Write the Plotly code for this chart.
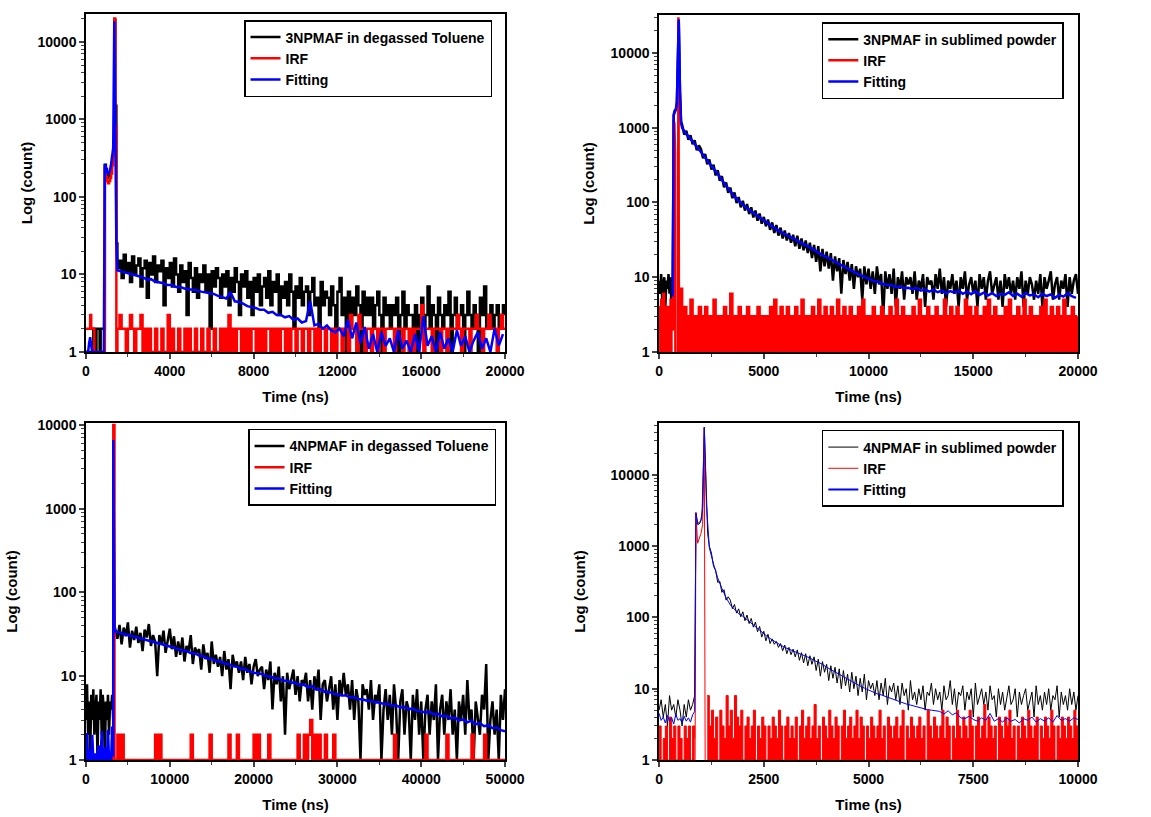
import plotly.graph_objects as go

# ---------------- data (counts) ----------------
# panel 1 : 3NPMAF in degassed Toluene
p1_head_t = [0, 50, 100, 150, 200, 250, 300, 350, 400, 450, 500, 550, 600, 650, 700,
             750, 800, 850, 900, 950, 1000, 1050, 1100, 1150, 1200, 1250, 1300, 1350, 1400, 1450]
p1_decay_head = [1, 1, 1, 1, 1, 1, 1, 2, 2, 1, 2, 2, 2, 1, 2, 2, 2, 2,
                 260, 230, 190, 175, 185, 200, 250, 330, 450, 19000, 1500, 25]
p1_irf_head = [2, 2, 2, 2, 3, 2, 2, 2, 1, 1, 1, 1, 1, 1, 1, 1, 1, 1,
               240, 180, 160, 150, 160, 175, 200, 260, 400, 20000, 800, 1]
p1_fit_head = [1, 1, 1, 1.3, 1.55, 1.2, 1, 1, 1, 1, 1, 1, 1, 1, 1, 1, 1, 1,
               265, 240, 205, 195, 205, 225, 265, 330, 430, 18500, 700, 25]
p1_decay_tail = [12, 15, 9, 18, 11, 14, 8, 17, 10, 13,
                 16, 7, 12, 15, 5, 14, 10, 17, 8, 13,
                 11, 15, 4, 12, 9, 14, 7, 16, 10, 6,
                 13, 8, 11, 3, 14, 9, 6, 12, 5, 10,
                 8, 13, 6, 10, 2, 11, 7, 12, 9, 5,
                 10, 7, 11, 4, 9, 6, 12, 8, 3, 10,
                 7, 11, 5, 8, 3, 9, 6, 10, 4, 7,
                 9, 5, 11, 4, 8, 6, 10, 3, 7, 5,
                 8, 4, 10, 6, 2, 7, 5, 9, 4, 6,
                 7, 3, 6, 9, 4, 5, 1, 8, 4, 6,
                 5, 3, 7, 4, 2, 6, 9, 3, 5, 1,
                 6, 2, 5, 3, 7, 4, 1, 6, 3, 5,
                 3, 5, 2, 4, 6, 3, 1, 5, 3, 4,
                 2, 4, 3, 5, 1, 3, 6, 2, 4, 3,
                 3, 2, 4, 1, 3, 5, 2, 3, 7, 2,
                 4, 3, 1, 5, 3, 2, 4, 3, 6, 1,
                 3, 5, 2, 3, 4, 1, 3, 6, 3, 2,
                 4, 3, 1, 5, 3, 7, 2, 3, 4, 2,
                 3, 4, 2, 3, 4, 3]
p1_irf_tail = [2, 3, 2, 2, 1, 2, 3, 2, 1, 2,
               2, 3, 1, 2, 1, 2, 1, 1, 2, 1,
               1, 2, 1, 1, 3, 1, 2, 1, 1, 2,
               1, 1, 2, 1, 2, 1, 1, 2, 1, 1,
               2, 1, 1, 2, 1, 1, 2, 1, 1, 2,
               1, 2, 1, 3, 1, 2, 1, 2, 2, 1,
               2, 1, 2, 1, 2, 2, 1, 2, 1, 2,
               1, 2, 2, 1, 2, 1, 2, 1, 2, 2,
               1, 2, 1, 2, 2, 1, 2, 2, 1, 2,
               2, 1, 2, 2, 1, 2, 1, 2, 2, 1,
               2, 2, 1, 2, 1, 2, 2, 1, 2, 2,
               1, 3, 2, 2, 1, 3, 2, 2, 1, 2,
               2, 1, 2, 2, 1, 2, 2, 1, 2, 2,
               2, 2, 1, 2, 2, 2, 1, 2, 2, 1,
               2, 1, 2, 2, 2, 4, 1, 2, 2, 2,
               1, 2, 2, 2, 1, 2, 2, 1, 2, 2,
               2, 2, 3, 2, 1, 2, 2, 2, 1, 2,
               2, 3, 2, 2, 1, 2, 2, 3, 2, 2,
               2, 1, 2, 3, 2, 2]
p1_fit_tail = [11.3, 10.9, 10.4, 10.2, 9.7, 9.4, 9.2, 8.6, 8.7, 8.1,
               7.9, 7.7, 7.3, 7.3, 6.9, 6.9, 6.6, 6.5, 6.3, 6.2,
               6.0, 5.9, 5.7, 5.6, 5.3, 5.1, 4.9, 5.9, 4.5, 4.4,
               4.2, 3.9, 3.8, 3.7, 3.5, 3.5, 3.2, 3.3, 3.0, 3.0,
               2.8, 2.9, 2.6, 2.7, 2.4, 2.5, 4.5, 2.2, 2.3, 2.0,
               2.2, 1.9, 1.8, 2.0, 1.6, 2.6, 1.5, 2.4, 1.3, 2.1,
               1.1, 1.7, 1.0, 1.8, 1.2, 1.5, 1.0, 1.9, 1.1, 1.4,
               1.0, 1.7, 1.0, 2.9, 1.2, 1.6, 1.0, 1.8, 1.1, 1.5,
               1.0, 1.9, 1.2, 1.6, 1.0, 1.4, 1.8, 1.1, 1.5, 1.0,
               2.0, 1.2, 1.7]

# panel 2 : 3NPMAF in sublimed powder
p2_head_t = [0, 50, 100, 150, 200, 250, 300, 350, 400, 450, 500, 550, 600, 650,
             700, 750, 800, 850, 900, 940, 1000, 1050]
p2_decay_head = [9, 6, 11, 5, 8, 10, 4, 9, 7, 11, 6, 10, 3, 7,
                 1450, 1650, 1700, 2100, 8500, 27000, 2900, 1200]
p2_decay_tail = [1100, 810, 910, 690, 790, 600, 680, 500, 580,
                 520, 390, 445, 325, 375, 275, 320, 230, 270, 195,
                 225, 160, 185, 135, 158, 114, 136, 98, 118, 86,
                 105, 78, 95, 70, 86, 63, 78, 57, 71, 52,
                 64, 48, 59, 43, 54, 39, 50, 36, 46, 33,
                 42, 31, 39, 29, 37, 26, 36, 24, 33, 23,
                 31, 21, 29, 18, 27, 16, 26, 12, 24, 14,
                 22, 13, 21, 9, 19, 12, 18, 6, 17, 11,
                 16, 9, 15, 7, 14, 10, 13, 5, 14, 8,
                 13, 7, 12, 6, 14, 8, 11, 3, 12, 7,
                 11, 6, 13, 4, 10, 7, 12, 5, 10, 8,
                 10, 6, 12, 5, 9, 7, 11, 4, 10, 8,
                 9, 5, 11, 7, 13, 6, 10, 4, 9, 7,
                 11, 6, 9, 4, 10, 7, 12, 5, 8, 10,
                 6, 9, 4, 11, 7, 10, 5, 9, 12, 6,
                 8, 10, 5, 9, 4, 11, 7, 10, 6, 9,
                 5, 10, 7, 12, 4, 9, 6, 10, 8, 5,
                 9, 6, 11, 4, 10, 7, 9, 12, 5, 8,
                 10, 5, 9, 7, 11, 4, 10, 6, 9, 11,
                 6]
p2_irf_pre = [4, 2, 5, 3, 6, 2, 4, 3, 1, 4, 3, 5, 2, 4]
p2_irf_peak_t = [665, 690, 730, 765, 780, 850, 905, 925, 950]
p2_irf_peak = [2, 1260, 1150, 450, 1, None, 1, 30000, 1]
p2_irf_tail = [7,
               2, 4, 1, 3, 5, 2, 3, 1, 4,
               3, 2, 4, 1, 3, 2, 5, 3, 1, 3,
               2, 4, 3, 1, 6, 3, 2, 3, 4, 2,
               3, 1, 4, 2, 3, 1, 3, 4, 2, 3,
               2, 3, 1, 4, 3, 5, 2, 3, 4, 1,
               3, 4, 2, 3, 1, 4, 3, 2, 5, 3,
               1, 3, 2, 4, 3, 2, 5, 3, 1, 4,
               3, 2, 4, 1, 3, 5, 2, 3, 4, 2,
               3, 4, 1, 3, 2, 4, 3, 5, 2, 3,
               1, 3, 4, 2, 3, 1, 4, 3, 2, 3,
               4, 2, 3, 5, 1, 3, 4, 2, 3, 1,
               3, 4, 2, 3, 5, 2, 3, 1, 4, 3,
               2, 3, 4, 1, 3, 2, 5, 3, 2, 4,
               3, 1, 4, 3, 2, 3, 5, 2, 4, 3,
               2, 4, 3, 1, 3, 4, 2, 5, 3, 2,
               4, 3, 1, 3, 2, 4, 3, 5, 2, 3,
               1, 4, 3, 2, 5, 3, 2, 4, 3, 1,
               3, 2, 4, 3, 5, 2, 3, 4, 1, 3,
               4, 2, 3, 5, 2, 3, 1, 4, 3, 2,
               3]
p2_fit_head_t = [650, 700, 750, 800, 850, 900, 940, 1000, 1050]
p2_fit_head = [5.5, 1500, 1700, 1750, 2200, 9000, 28000, 3000, 1150]
p2_fit_tail = [1000, 820, 710, 610, 515, 435, 365, 310, 262, 220,
               182, 152, 130, 112, 99, 88, 80, 72, 66, 60,
               55, 50, 46, 42, 39, 36, 34, 32, 29.5, 27.5,
               26, 24, 22, 20.5, 19, 18, 16.5, 15.5, 14.5, 13.5,
               12.5, 11.7, 11, 10.4, 9.8, 9.4, 8.8, 8.6, 8.1, 7.9,
               7.8, 7.4, 7.5, 7.1, 7.2, 6.9, 7.2, 6.6, 6.9, 6.4,
               6.8, 6.3, 6.6, 6.1, 6.5, 6.2, 6.6, 6.0, 6.4, 5.9,
               6.5, 5.8, 6.2, 5.7, 6.1, 5.6, 6.0, 5.8, 6.3, 5.6,
               6.0, 5.5, 6.1, 5.7, 5.9, 5.4, 6.0, 5.6, 5.9, 5.3,
               5.8, 5.5, 6.1, 5.6, 5.3]

# panel 3 : 4NPMAF in degassed Toluene
p3_peak_t = [3260, 3400]
p3_decay_head = [3, 8, 2, 5, 1, 6, 3, 7, 2, 4, 6, 1, 5, 3, 7, 2, 6, 4, 1, 5, 3, 6, 2, 5, 4, 6, 3,
                 6500, 40]
p3_irf_head = [1, 1, 1, 1, 1, 1, 1, 1, 1, 1, 1, 1, 1, 1, 1, 1, 1, 1, 1, 1, 1, 1, 1, 1, 1, 1, 1,
               10000, 1]
p3_fit_head = [1, 2.1, 1, 1, 1.3, 1, 2, 1, 1, 1.2, 1, 1, 1.5, 1, 1, 2.2, 1, 1, 1.4, 1, 1, 2.3, 1,
               1.2, 1, 2.5, 1.1, 6600, 35]
p3_decay_tail = [36, 28, 41, 24, 38, 30, 44, 22, 35, 27,
                 39, 25, 33, 20, 36, 29, 42, 23, 31, 26,
                 10, 31, 24, 35, 19, 28, 37, 21, 30, 17,
                 26, 18, 29, 15, 23, 20, 31, 14, 22, 19,
                 21, 12, 24, 16, 19, 11, 26, 14, 18, 13,
                 17, 10, 20, 12, 16, 7, 18, 13, 15, 11,
                 15, 9, 17, 11, 14, 8, 13, 16, 10, 12,
                 13, 7, 12, 9, 15, 4, 11, 8, 13, 5,
                 10, 2, 11, 7, 9, 12, 6, 10, 5, 9,
                 8, 11, 5, 9, 4, 10, 7, 12, 3, 8,
                 9, 5, 7, 10, 4, 8, 3, 9, 6, 11,
                 6, 8, 4, 9, 3, 7, 5, 1, 8, 6,
                 7, 4, 9, 3, 6, 5, 8, 1, 4, 7,
                 3, 6, 2, 8, 4, 1, 5, 7, 2, 5,
                 4, 1, 6, 3, 7, 2, 5, 1, 4, 6,
                 2, 5, 3, 8, 1, 4, 6, 2, 5, 3,
                 7, 2, 4, 1, 5, 3, 6, 2, 9, 3,
                 4, 1, 5, 3, 2, 6, 4, 14, 1, 3,
                 5, 2, 4, 1, 6, 3, 7]
p3_irf_tail = [1, 2, 1, 2, 1, 1, 1, 1, 1, 1,
               1, 1, 1, 1, 1, 1, 1, 1, 1, 2,
               1, 2, 1, 1, 1, 1, 1, 1, 1, 1,
               1, 1, 1, 1, 1, 1, 2, 1, 1, 1,
               1, 1, 1, 1, 1, 2, 1, 1, 1, 1,
               1, 1, 1, 1, 2, 1, 1, 1, 2, 1,
               1, 1, 1, 1, 1, 1, 2, 1, 2, 1,
               1, 1, 1, 2, 1, 1, 1, 1, 1, 1,
               1, 1, 1, 1, 1, 1, 1, 2, 1, 1,
               2, 1, 2, 3, 1, 2, 1, 2, 1, 1,
               2, 1, 1, 1, 2, 1, 1, 1, 1, 1,
               1, 1, 1, 1, 1, 1, 1, 1, 1, 1,
               1, 1, 1, 1, 1, 1, 1, 1, 1, 1,
               1, 1, 1, 2, 1, 1, 1, 1, 1, 1,
               1, 1, 1, 1, 1, 1, 1, 1, 2, 1,
               1, 1, 1, 1, 1, 1, 1, 1, 2, 1,
               1, 1, 1, 1, 1, 1, 1, 1, 1, 1,
               2, 1, 1, 1, 1, 1, 2, 1, 1, 1,
               1, 1, 1, 1, 1, 1, 1]
p3_fit_tail = [34.5, 33, 32.0, 31.4, 30.0, 29.5, 28.2, 27.8, 26.5, 26.0, 24.9, 24.5, 23.4, 22.6,
               21.8, 21.4, 20.3, 20.0, 18.9, 18.7, 17.6, 17.3, 16.3, 16.2,
               15.2, 15.0, 14.2, 14.0, 13.2, 13.0, 12.3, 12.1, 11.4, 11.0,
               10.7, 10.6, 10.0, 9.9, 9.4, 9.4, 8.9, 8.8, 8.4, 8.3,
               7.9, 7.9, 7.4, 7.6, 6.9, 7.0, 6.5, 6.5, 6.2, 6.0,
               5.9, 5.9, 5.6, 5.6, 5.35, 5.3, 5.1, 5.1, 4.87, 4.9,
               4.65, 4.7, 4.44, 4.5, 4.24, 4.3, 4.05, 4.1, 3.87, 3.8,
               3.7, 3.75, 3.5, 3.55, 3.32, 3.4, 3.14, 3.2, 2.97, 3.05,
               2.82, 2.95, 2.67, 2.75, 2.53, 2.6, 2.39, 2.45, 2.27, 2.2]

# panel 4 : 4NPMAF in sublimed powder
p4_decay_pre = [5, 7, 4, 6, 3, 8, 5, 6, 4, 7, 5, 3, 6, 4, 7, 5, 6, 8]
p4_decay_peak_t = [880, 925, 975, 1025, 1080, 1130, 1160]
p4_decay_peak = [2900, 2000, 2100, 2600, 45000, 5000, 1500]
p4_decay_tail = [1000, 800, 520, 460, 310, 320, 225, 245, 175, 195,
                 175, 133, 152, 115, 132, 102, 120, 90, 108, 82,
                 97, 73, 86, 63, 75, 53, 64, 47, 58, 43,
                 50, 42, 46, 38, 43, 34, 41, 31, 38, 30,
                 36, 28, 35, 25, 32, 23, 31, 21, 29, 22,
                 28, 18, 26, 15, 24, 17, 22, 13, 21, 14,
                 20, 12, 19, 10, 18, 11, 16, 9, 17, 10,
                 15, 8, 14, 9, 16, 7, 13, 10, 12, 8,
                 13, 7, 12, 8, 14, 6, 11, 9, 12, 7,
                 11, 6, 12, 8, 10, 5, 13, 7, 9, 6,
                 10, 7, 11, 5, 9, 8, 12, 6, 10, 7,
                 9, 5, 11, 7, 8, 13, 6, 10, 5, 9,
                 8, 11, 5, 9, 7, 10, 4, 12, 6, 8,
                 10, 6, 9, 5, 11, 7, 8, 4, 10, 6,
                 9, 5, 8, 11, 6, 7, 10, 4, 9, 6,
                 8, 10, 5, 7, 9, 4, 11, 6, 8, 5,
                 9, 6, 10, 5, 8, 7, 11, 4, 9, 6,
                 8, 5, 10, 6, 9, 5, 8]
p4_irf_pre = [3, 1, 2, 3, 1, 4, 2, 3, 1, 3, 2, 1, 3, 2, 3, 1, 3, 2]
p4_irf_peak_t = [860, 880, 920, 960, 1000, 1040, 1080, 1100]
p4_irf_peak = [1, 3000, 1100, 1300, 1500, 2000, 47000, 1]
p4_irf_tail = [8, 3, 5, 2, 4, 1, 5, 3, 2, 8,
               3, 5, 2, 8, 4, 3, 5, 1, 3, 4,
               2, 3, 5, 1, 3, 2, 4, 3, 1, 3,
               2, 4, 3, 2, 5, 3, 1, 3, 4, 2,
               3, 2, 4, 1, 3, 5, 2, 3, 4, 2,
               3, 6, 2, 3, 1, 4, 3, 2, 5, 3,
               2, 4, 3, 1, 3, 5, 2, 3, 4, 2,
               3, 5, 2, 4, 3, 1, 3, 2, 4, 3,
               2, 3, 5, 2, 3, 1, 4, 3, 2, 3,
               4, 2, 3, 5, 1, 3, 2, 4, 3, 2,
               3, 4, 2, 3, 1, 5, 3, 2, 4, 3,
               2, 3, 5, 2, 4, 3, 1, 3, 2, 5,
               3, 2, 4, 3, 2, 5, 3, 1, 3, 4,
               2, 3, 6, 2, 4, 3, 2, 3, 1, 4,
               3, 2, 4, 3, 5, 2, 3, 1, 3, 2,
               4, 3, 2, 5, 3, 2, 3, 4, 1, 3,
               2, 4, 3, 2, 5, 3, 1, 3, 2, 4,
               3, 2, 4, 3, 2, 5, 3, 2]
p4_fit_pre = [4.5, 3.6, 4.0, 3.3, 4.2, 3.5, 3.9, 3.2, 4.4, 3.6, 3.8, 3.3, 4.1, 3.5, 3.9, 3.4, 4.3, 4.8]
p4_fit_peak_t = [880, 920, 960, 1000, 1040, 1080, 1130, 1170]
p4_fit_peak = [2900, 2100, 2150, 2300, 3500, 47000, 4000, 1400]
p4_fit_tail = [950, 560, 360, 255, 190, 150, 128, 113, 104, 93,
               83, 74, 66, 58, 53, 48.5, 44, 41, 38, 36,
               34, 32, 30, 28.5, 27, 25, 23.5, 22, 20, 18.5,
               17, 15.8, 14.7, 13.5, 12.5, 11.6, 10.9, 10.2, 9.6, 9.0,
               8.5, 8.2, 7.8, 7.4, 7.0, 6.7, 6.3, 6.1, 5.9, 5.7,
               5.4, 5.2, 5.1, 5.0, 4.9, 4.8, 4.4, 4.9, 4.3, 4.6,
               3.9, 3.8, 4.1, 3.7, 3.5, 3.9, 3.6, 4.5, 3.5, 3.8,
               3.4, 3.9, 3.5, 3.7, 3.3, 3.8, 3.6, 4.0, 3.4, 3.8,
               3.5, 3.9, 3.4, 4.2, 3.6, 3.8, 3.5, 3.9, 3.7]

names = ["3NPMAF in degassed Toluene", "3NPMAF in sublimed powder",
         "4NPMAF in degassed Toluene", "4NPMAF in sublimed powder"]


def grid(start, step, n):
    # regular time channels
    return [start + step * i for i in range(n)]


BLACK, RED, BLUE = "#000000", "#ff0000", "#0000ff"
FONT = "Liberation Sans, Arial, sans-serif"

fig = go.Figure()


def line(n, x, y, color, width, name, show, shape="linear", fill=None, rank=1000):
    sfx = "" if n == 1 else str(n)
    fig.add_trace(go.Scatter(
        x=x, y=y, mode="lines", name=name, showlegend=show, legendrank=rank,
        legend="legend" + sfx,
        xaxis="x" + sfx, yaxis="y" + sfx,
        line=dict(color=color, width=width, shape=shape),
        fill=fill, fillcolor=color if fill else None))


W = 2.5
# panel 1
line(1, p1_head_t + grid(1500, 100, len(p1_decay_tail)), p1_decay_head + p1_decay_tail,
     BLACK, W, names[0], True, "hv")
line(1, p1_head_t + grid(1500, 100, len(p1_irf_tail)), p1_irf_head + p1_irf_tail,
     RED, W, "IRF", True, "hv")
line(1, p1_head_t + grid(1500, 200, len(p1_fit_tail)), p1_fit_head + p1_fit_tail,
     BLUE, W, "Fitting", True)

# panel 2
line(2, p2_head_t + grid(1100, 100, len(p2_decay_tail)), p2_decay_head + p2_decay_tail,
     BLACK, W, names[1], True)
line(2, p2_irf_peak_t, p2_irf_peak, RED, W, "IRF", True)
line(2, grid(0, 50, len(p2_irf_pre)), p2_irf_pre, RED, W, "IRF", False, "hv", "tozeroy")
line(2, grid(1000, 100, len(p2_irf_tail)), p2_irf_tail, RED, W, "IRF", False, "hv", "tozeroy")
line(2, p2_fit_head_t + grid(1100, 200, len(p2_fit_tail)), p2_fit_head + p2_fit_tail,
     BLUE, W, "Fitting", True)

# panel 3
p3_head_t = grid(0, 125, 27) + p3_peak_t
line(3, p3_head_t + grid(3500, 250, len(p3_decay_tail)), p3_decay_head + p3_decay_tail,
     BLACK, W, names[2], True)
line(3, p3_head_t + grid(3500, 250, len(p3_irf_tail)), p3_irf_head + p3_irf_tail,
     RED, W, "IRF", True, "hv")
line(3, p3_head_t + grid(3500, 500, len(p3_fit_tail)), p3_fit_head + p3_fit_tail,
     BLUE, W, "Fitting", True)

# panel 4 (thin lines); red noise floor drawn first, the fit goes on top
w4 = 1
line(4, grid(0, 50, len(p4_decay_pre)) + p4_decay_peak_t + grid(1200, 50, len(p4_decay_tail)),
     p4_decay_pre + p4_decay_peak + p4_decay_tail, BLACK, w4, names[3], True, rank=1)
line(4, grid(0, 50, len(p4_irf_pre)), p4_irf_pre, RED, w4, "IRF", False, "hv", "tozeroy")
line(4, grid(1150, 50, len(p4_irf_tail)), p4_irf_tail, RED, w4, "IRF", False, "hv", "tozeroy")
line(4, p4_irf_peak_t, p4_irf_peak, RED, w4, "IRF", True, rank=2)
# legend entry for the fit (the curve itself is the next trace)
line(4, [None], [None], BLUE, 2, "Fitting", True, rank=3)
line(4, grid(0, 50, len(p4_fit_pre)) + p4_fit_peak_t + grid(1200, 100, len(p4_fit_tail)),
     p4_fit_pre + p4_fit_peak + p4_fit_tail, BLUE, w4, "Fitting", False)

# ---------------- layout ----------------
tickfont = dict(family=FONT, size=14, color="black", weight="bold")
titlefont = dict(family=FONT, size=15, color="black", weight="bold")
ymajor = [1, 10, 100, 1000, 10000]
yminor = [m * 10 ** e for e in range(5) for m in range(2, 10)]

panels = [
    dict(dx=[0.0747, 0.4388], dy=[0.5692, 0.9829], xmax=20000, dt=4000, ytop=4.36, ystand=1,
         leg=(0.212, 0.9755)),
    dict(dx=[0.5726, 0.9366], dy=[0.5692, 0.9816], xmax=20000, dt=5000, ytop=4.507, ystand=12,
         leg=(0.714, 0.973)),
    dict(dx=[0.0747, 0.4388], dy=[0.0698, 0.4823], xmax=50000, dt=10000, ytop=4.024, ystand=16,
         leg=(0.2155, 0.475)),
    dict(dx=[0.5726, 0.9366], dy=[0.0698, 0.4823], xmax=10000, dt=2500, ytop=4.729, ystand=21,
         leg=(0.714, 0.4737)),
]

layout = dict(width=1151, height=817, margin=dict(l=0, r=0, t=0, b=0, autoexpand=False),
              paper_bgcolor="white", plot_bgcolor="white",
              font=dict(family=FONT, color="black"))

for i, p in enumerate(panels):
    n = i + 1
    sfx = "" if n == 1 else str(n)
    layout["xaxis" + sfx] = dict(
        domain=p["dx"], anchor="y" + sfx, range=[0, p["xmax"]], automargin=False,
        tick0=0, dtick=p["dt"], tickformat="d", ticks="outside", ticklen=5, tickwidth=1.5,
        minor=dict(dtick=p["dt"] / 2, ticks="outside", ticklen=3, tickwidth=1),
        showline=True, linewidth=1.5, linecolor="black", mirror=True,
        showgrid=False, zeroline=False, tickfont=tickfont,
        title=dict(text="Time (ns)", font=titlefont, standoff=14))
    layout["yaxis" + sfx] = dict(
        domain=p["dy"], anchor="x" + sfx, type="log", range=[0, p["ytop"]], automargin=False,
        tickmode="array", tickvals=ymajor, ticktext=[str(v) for v in ymajor],
        ticks="outside", ticklen=5, tickwidth=1.5,
        minor=dict(tickvals=yminor, ticks="outside", ticklen=3, tickwidth=1),
        showline=True, linewidth=1.5, linecolor="black", mirror=True,
        showgrid=False, zeroline=False, tickfont=tickfont,
        title=dict(text="Log (count)", font=titlefont, standoff=p["ystand"]))
    # inward ticks on the top and right frame
    layout[f"xaxis{n + 4}"] = dict(
        overlaying="x" + sfx, anchor="y" + sfx, side="top", range=[0, p["xmax"]],
        automargin=False,
        tick0=0, dtick=p["dt"], ticks="inside", ticklen=4, tickwidth=1.2,
        minor=dict(dtick=p["dt"] / 2, ticks="inside", ticklen=2, tickwidth=1),
        showticklabels=False, showgrid=False, zeroline=False, showline=False)
    layout[f"yaxis{n + 4}"] = dict(
        overlaying="y" + sfx, anchor="x" + sfx, side="right", type="log", range=[0, p["ytop"]],
        automargin=False,
        tickmode="array", tickvals=ymajor, ticks="inside", ticklen=4, tickwidth=1.2,
        minor=dict(tickvals=yminor, ticks="inside", ticklen=2, tickwidth=1),
        showticklabels=False, showgrid=False, zeroline=False, showline=False)
    layout["legend" + sfx] = dict(
        x=p["leg"][0], y=p["leg"][1], xanchor="left", yanchor="top",
        bgcolor="white", bordercolor="black", borderwidth=1.5,
        font=dict(family=FONT, size=14, color="black", weight="bold"),
        tracegroupgap=0, itemwidth=30)

fig.update_layout(**layout)
# the page body has a default 8px margin; drop it so the figure fills the window
fig.write_html("out.html", config={"displayModeBar": False},
               post_script="document.body.style.margin='0';")
